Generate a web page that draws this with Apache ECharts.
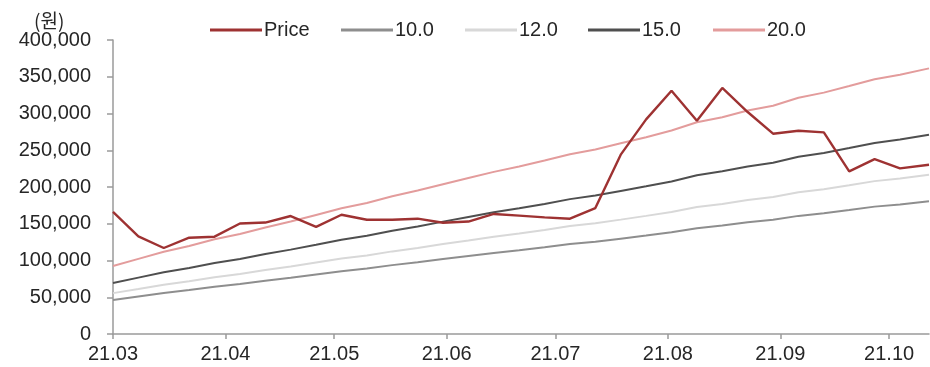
<!DOCTYPE html>
<html>
<head>
<meta charset="utf-8">
<script src="https://cdn.jsdelivr.net/npm/echarts@6/dist/echarts.min.js"></script>
<style>
  html, body { margin: 0; padding: 0; background: #ffffff; }
  #chart { width: 930px; height: 367px; }
</style>
</head>
<body>
<div id="chart"></div>
<script>
// Weekly closing dates
const dates = [
  '2021-03-01','2021-03-08','2021-03-15','2021-03-22','2021-03-29',
  '2021-04-05','2021-04-12','2021-04-19','2021-04-26',
  '2021-05-03','2021-05-10','2021-05-17','2021-05-24','2021-05-31',
  '2021-06-07','2021-06-14','2021-06-21','2021-06-28',
  '2021-07-05','2021-07-12','2021-07-19','2021-07-26',
  '2021-08-02','2021-08-09','2021-08-16','2021-08-23','2021-08-30',
  '2021-09-06','2021-09-13','2021-09-20','2021-09-27',
  '2021-10-04','2021-10-12'
];

// Share price (원)
const price = [
  166000, 132800, 117000, 131000, 132400, 150300, 151600, 160500, 145800,
  162300, 155500, 155500, 156900, 151300, 153000, 163300, 161000, 158700,
  156900, 171400, 244000, 292000, 331000, 290200, 334700, 302000, 272500,
  276600, 274300, 221200, 238000, 225300, 230300
];

// PER band lines (10x, 12x, 15x, 20x)
const per10 = [
  46300, 51100, 55900, 59900, 64400, 68000, 72500, 76500, 81000, 85500, 89100,
  93700, 97600, 101900, 106100, 110300, 114000, 118000, 122300, 125500, 129700,
  133900, 138400, 144000, 147500, 152000, 155300, 160700, 164200, 168700,
  173300, 176300, 180700
];
const per12 = [
  55600, 61300, 67100, 71900, 77300, 81600, 87000, 91800, 97200, 102600, 106900,
  112400, 117100, 122300, 127300, 132400, 136800, 141600, 146800, 150600, 155600,
  160700, 166100, 172800, 177000, 182400, 186400, 192800, 197000, 202400,
  208000, 211600, 216800
];
const per15 = [
  69500, 76700, 83900, 89900, 96600, 102000, 108800, 114800, 121500, 128300,
  133700, 140600, 146400, 152900, 159200, 165500, 171000, 177000, 183500,
  188300, 194600, 200900, 207600, 216000, 221300, 228000, 233000, 241100,
  246300, 253100, 260000, 264500, 271100
];
const per20 = [
  92600, 102200, 111800, 119800, 128800, 136000, 145000, 153000, 162000, 171000,
  178200, 187400, 195200, 203800, 212200, 220600, 228000, 236000, 244600,
  251000, 259400, 267800, 276800, 288000, 295000, 304000, 310600, 321400,
  328400, 337400, 346600, 352600, 361400
];

// Month ticks on the date axis
const monthTicks = ['2021-03-01','2021-04-01','2021-05-01','2021-06-01',
                    '2021-07-01','2021-08-01','2021-09-01','2021-10-01'];
const monthLabels = ['21.03','21.04','21.05','21.06','21.07','21.08','21.09','21.10'];

const yTicks = [0, 50000, 100000, 150000, 200000, 250000, 300000, 350000, 400000];

// Day offset from the first date (ISO dates parse as UTC, so no DST drift)
const DAY = 86400000;
const day0 = Date.parse(dates[0]);
const toDay = s => Math.round((Date.parse(s) - day0) / DAY);
const tickDays = monthTicks.map(toDay);

const seriesDefs = [
  { name: '10.0',  data: per10, color: '#8e8e8e', width: 2 },
  { name: '12.0',  data: per12, color: '#d8d8d8', width: 2 },
  { name: '15.0',  data: per15, color: '#4f4f4f', width: 2 },
  { name: '20.0',  data: per20, color: '#e39c9c', width: 2 },
  { name: 'Price', data: price, color: '#9e3232', width: 2.4 }
];

const FONT = 'Liberation Sans';
const TEXT = '#262626';
const legendLeft = { 'Price': 210, '10.0': 341, '12.0': 465, '15.0': 588, '20.0': 713 };

const chart = echarts.init(document.getElementById('chart'), null, { renderer: 'canvas' });

chart.setOption({
  animation: false,
  backgroundColor: '#ffffff',
  grid: { left: 113, right: 1, top: 40, bottom: 33, containLabel: false },
  legend: ['Price', '10.0', '12.0', '15.0', '20.0'].map(n => ({
    data: [n],
    left: legendLeft[n],
    top: 20,
    icon: 'rect',
    itemWidth: 52,
    itemHeight: 3,
    itemGap: 0,
    padding: 0,
    selectedMode: false,
    textStyle: { fontFamily: FONT, fontSize: 20, color: TEXT, padding: [0, 0, 0, -3] }
  })),
  graphic: [{
    type: 'text',
    left: 34,
    top: 11,
    style: { text: '(원)', fontFamily: 'Noto Sans CJK KR', fontSize: 19, fill: TEXT }
  }],
  xAxis: {
    type: 'value',
    min: 0,
    max: toDay(dates[dates.length - 1]),
    axisLine: { show: true, onZero: false, lineStyle: { color: '#9a9a9a', width: 1.5 } },
    axisTick: { show: true, length: 5, lineStyle: { color: '#9a9a9a', width: 1.5 }, customValues: tickDays },
    splitLine: { show: false },
    axisLabel: {
      customValues: tickDays,
      fontFamily: FONT, fontSize: 20, color: TEXT, margin: 10,
      formatter: v => {
        const i = tickDays.indexOf(v);
        return i >= 0 ? monthLabels[i] : '';
      }
    }
  },
  yAxis: {
    type: 'value',
    min: yTicks[0],
    max: yTicks[yTicks.length - 1],
    interval: yTicks[1] - yTicks[0],
    axisLine: { show: true, lineStyle: { color: '#9a9a9a', width: 1.5 } },
    axisTick: { show: true, length: 6, lineStyle: { color: '#9a9a9a', width: 1.5 } },
    splitLine: { show: false },
    axisLabel: {
      fontFamily: FONT, fontSize: 20, color: TEXT, margin: 22,
      formatter: v => v.toLocaleString('en-US')
    }
  },
  series: seriesDefs.map(d => ({
    name: d.name,
    type: 'line',
    data: dates.map((t, i) => [toDay(t), d.data[i]]),
    symbol: 'none',
    showSymbol: false,
    smooth: false,
    clip: false,
    color: d.color,
    lineStyle: { color: d.color, width: d.width },
    itemStyle: { color: d.color }
  }))
});
</script>
</body>
</html>
